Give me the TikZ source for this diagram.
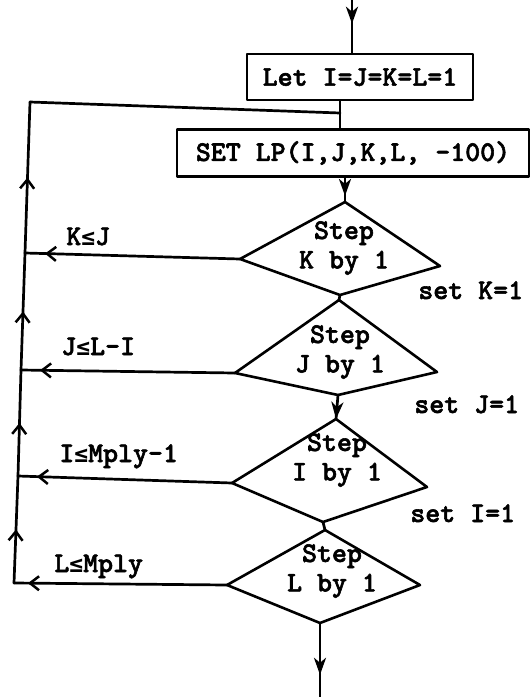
\documentclass[tikz,border=0pt]{standalone}
\usepackage{fontspec}
\usetikzlibrary{arrows.meta,decorations.markings}
% typewriter face for every label, a heavier face for the "less or equal" sign
\newfontfamily\flowfont{lmmonolt10-bold.otf}[FakeBold=2]
\newfontfamily\lefont{DejaVu Sans Mono Bold}
\newcommand\lesign{{\lefont\fontsize{23}{26}\selectfont ≤}}

\begin{document}
\begin{tikzpicture}[x=1pt,y=-1pt,
  line width=2.7pt, line join=round, line cap=round,
  every node/.style={font={\flowfont\fontsize{28.5}{29.5}\selectfont}, inner sep=0pt},
  procbox/.style={draw, rectangle, line width=2.6pt},
  kite/.style={draw, line width=2.6pt},
  barbmid/.style={postaction={decorate}, decoration={markings,
      mark=at position 0.5 with {\arrow{Straight Barb[length=9pt,width=14pt,line width=2.5pt]}}}},
  barbend/.style={postaction={decorate}, decoration={markings,
      mark=at position -#1 with {\arrow{Straight Barb[length=9pt,width=14pt,line width=2.5pt]}}}},
  barbend/.default=18pt,
  headat/.style={postaction={decorate}, decoration={markings,
      mark=at position #1 with {\arrow{Stealth[length=17pt,width=12pt,inset=5pt]}}}},
]
\useasboundingbox (0,0) rectangle (532,697);

% process boxes
\node[procbox, minimum width=226pt, minimum height=46pt] (init) at (360,77) {Let I=J=K=L=1};
\node[procbox, minimum width=352pt, minimum height=47pt] (setlp) at (353,153) {SET LP(I,J,K,L, -100)};

% decision kites: vertices (top, right, bottom, left)
\coordinate (k1t) at (345,202); \coordinate (k1r) at (440,266);
\coordinate (k1b) at (340,295); \coordinate (k1l) at (240,259);
\coordinate (k2t) at (339,300); \coordinate (k2r) at (437,372);
\coordinate (k2b) at (338,395); \coordinate (k2l) at (235,373);
\coordinate (k3t) at (336,419); \coordinate (k3r) at (427,487);
\coordinate (k3b) at (323,522); \coordinate (k3l) at (232,483);
\coordinate (k4t) at (325,530); \coordinate (k4r) at (420,585);
\coordinate (k4b) at (320,623); \coordinate (k4l) at (227,585);

\draw[kite] (k1t) -- (k1r) -- (k1b) -- (k1l) -- cycle;
\draw[kite] (k2t) -- (k2r) -- (k2b) -- (k2l) -- cycle;
\draw[kite] (k3t) -- (k3r) -- (k3b) -- (k3l) -- cycle;
\draw[kite] (k4t) -- (k4r) -- (k4b) -- (k4l) -- cycle;

\node[align=center] (stepK) at (344,248) {Step\\K by 1};
\node[align=center] (stepJ) at (340,352) {Step\\J by 1};
\node[align=center] (stepI) at (337,460) {Step\\I by 1};
\node[align=center] (stepL) at (332,571) {Step\\L by 1};

% main flow
\coordinate (entry) at (352,0);
\coordinate (join) at (340,113);
\coordinate (exit) at (320,697);
\draw[headat=0.45] (entry) -- (entry |- init.north);
\draw (init.south -| join) -- (setlp.north -| join);
\draw[headat=0.75] (setlp.south -| k1t) -- (k1t);
\draw (k1b) -- (k2t);
\draw[headat=1] (k2b) -- (k3t);
\draw (k3b) -- (k4t);
\draw[headat=0.7] (k4b) -- (exit);

% return line on the left
\coordinate (lt) at (30,102);
\coordinate (la) at (25,253);
\coordinate (lb) at (21,370);
\coordinate (lc) at (18,476);
\coordinate (ld) at (14,583);
\draw[barbmid] (ld) -- (lc);
\draw[barbmid] (lc) -- (lb);
\draw[barbmid] (lb) -- (la);
\draw[barbmid] (la) -- (lt);
\draw (lt) -- (join);

\draw[barbend=20pt] (k1l) -- (la);
\draw[barbend=19pt] (k2l) -- (lb);
\draw[barbend=19pt] (k3l) -- (lc);
\draw[barbend=14pt] (k4l) -- (ld);

% branch conditions
\node[anchor=base west] (condK) at (65,245) {K\lesign J};
\node[anchor=base west] (condJ) at (60,355) {J\lesign L-I};
\node[anchor=base west] (condI) at (58,462) {I\lesign Mply-1};
\node[anchor=base west] (condL) at (53,572) {L\lesign Mply};

% resets
\node[anchor=base west] (resK) at (417,299) {set K=1};
\node[anchor=base west] (resJ) at (413,413) {set J=1};
\node[anchor=base west] (resI) at (409,522) {set I=1};
\end{tikzpicture}
\end{document}
